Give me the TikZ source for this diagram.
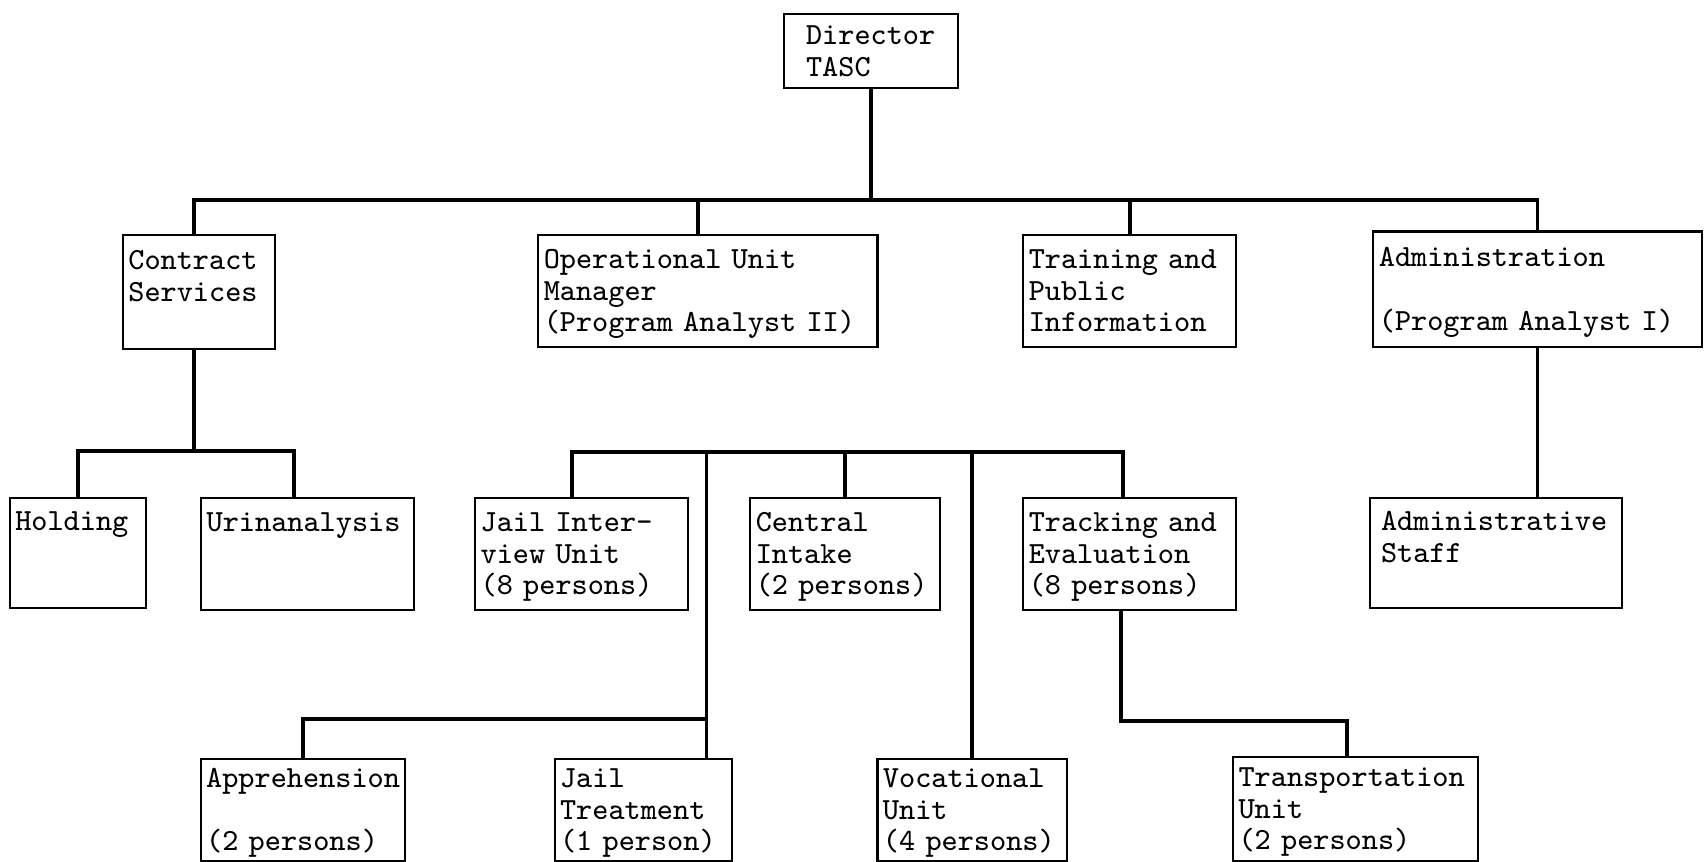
\documentclass[tikz,border=0pt]{standalone}
\usepackage{fontspec}
\usepackage{tikz}

\begin{document}
\begin{tikzpicture}[x=0.01cm,y=-0.01cm]
    \tikzstyle{unit}=[draw,line width=0.6pt,anchor=north west,align=left,inner xsep=0.055cm,inner ysep=0pt,font={\fontsize{8.75}{9}\selectfont\ttfamily},execute at begin node={\rule{0pt}{8pt}},execute at end node=\strut]
    \tikzstyle{link}=[draw,line width=1.1pt]
    \tikzstyle{spine}=[draw,line width=0.9pt]

    \useasboundingbox (0,0) rectangle (1705,862);

    \node[unit,inner xsep=0.22cm,text width=1.30cm,minimum height=0.74cm] (dir) at (783,13) {Director\\TASC};

    \node[unit,text width=1.41cm,minimum height=1.14cm] (cs) at (121.8,233.8) {Contract\\Services\\~};
    \node[unit,text width=3.28cm,minimum height=1.12cm] (oum) at (537.2,233.8) {Operational Unit\\Manager\\(Program Analyst II)};
    \node[unit,text width=2.02cm,minimum height=1.12cm] (tpi) at (1022.2,233.8) {Training and\\Public\\Information};
    \node[unit,text width=3.17cm,minimum height=1.15cm] (adm) at (1372.3,230.5) {Administration\\~\\(Program Analyst I)};

    \node[unit,text width=1.25cm,minimum height=1.10cm] (hold) at (8.7,496.9) {Holding\\~\\~};
    \node[unit,text width=2.02cm,minimum height=1.12cm] (uri) at (200.1,496.9) {Urinanalysis\\~\\~};
    \node[unit,text width=2.02cm,minimum height=1.12cm] (jiu) at (474.1,496.9) {Jail Inter-\\view Unit\\(8 persons)};
    \node[unit,text width=1.79cm,minimum height=1.12cm] (ci) at (749.2,496.9) {Central\\Intake\\(2 persons)};
    \node[unit,text width=2.02cm,minimum height=1.12cm] (te) at (1022.2,496.9) {Tracking and\\Evaluation\\(8 persons)};
    \node[unit,inner xsep=0.11cm,text width=2.30cm,minimum height=1.10cm] (as) at (1369,496.9) {Administrative\\Staff\\~};

    \node[unit,inner xsep=0.05cm,text width=1.94cm,minimum height=1.02cm] (app) at (200.1,757.9) {Apprehension\\~\\(2 persons)};
    \node[unit,text width=1.66cm,minimum height=1.02cm] (jt) at (553.5,757.9) {Jail\\Treatment\\(1 person)};
    \node[unit,text width=1.78cm,minimum height=1.02cm] (voc) at (876.4,757.9) {Vocational\\Unit\\(4 persons)};
    \node[unit,text width=2.34cm,minimum height=1.04cm] (tu) at (1232,755.7) {Transportation\\Unit\\(2 persons)};

    % top level
    \draw[link] (dir.south) -- ++(0,111) coordinate (top);
    \draw[link] ([xshift=-0.05cm]cs.north) |- (top) -| (adm.north);
    \draw[link] ([xshift=-0.1cm]oum.north) -- ([xshift=-0.1cm]oum.north |- top);
    \draw[link] (tpi.north) -- (tpi.north |- top);

    % contract services
    \draw[link] ([xshift=-0.05cm]cs.south) -- ++(0,101) coordinate (csbus);
    \draw[link] (hold.north) |- (csbus) -| ([xshift=-0.14cm]uri.north);

    % operational units
    \draw[link] ([xshift=-0.1cm]jiu.north) -- ++(0,-44.5) coordinate (midbus) -| ([xshift=-0.07cm]te.north);
    \draw[link] (ci.north) -- (ci.north |- midbus);
    \draw[spine] ([xshift=0.636cm]jt.north) -- ([xshift=0.636cm]jt.north |- midbus);
    \draw[link] (app.north) |- ([xshift=0.636cm,yshift=0.391cm]jt.north);
    \draw[spine] (voc.north) -- (voc.north |- midbus);
    \draw[link] ([xshift=-0.09cm]te.south) -- ++(0,109.8) -| ([xshift=-0.09cm]tu.north);

    % administration
    \draw[link] (adm.south) -- (adm.south |- as.north);
\end{tikzpicture}
\end{document}
